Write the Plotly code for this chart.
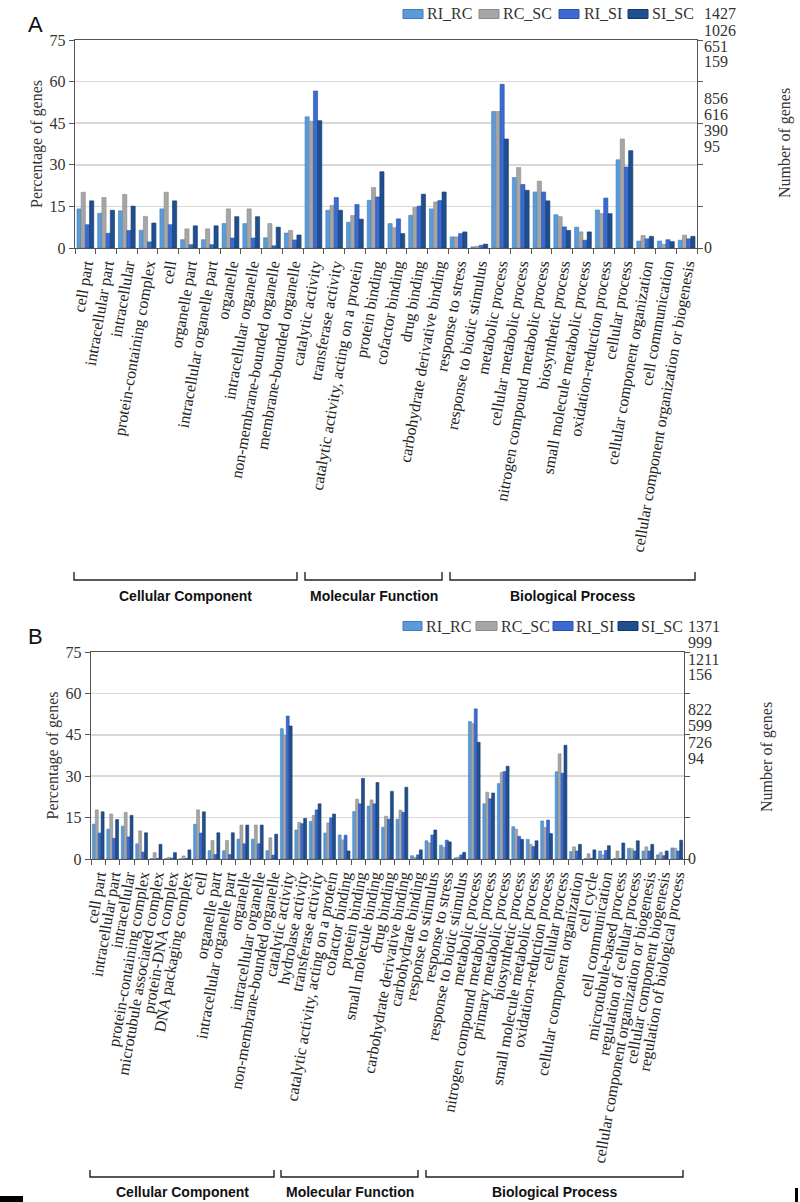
import plotly.graph_objects as go

W, H = 800, 1202

series = ["RI_RC", "RC_SC", "RI_SI", "SI_SC"]
colors = ["#5A9CDA", "#A6A6A6", "#3A6AD2", "#1F4F8E"]
edge_colors = ["#3E7DBA", "#8A8A8A", "#2A52AA", "#153A6A"]

# ---------------- Panel A data ----------------
cats_a = ["cell part", "intracellular part", "intracellular", "protein-containing complex", "cell",
          "organelle part", "intracellular organelle part", "organelle", "intracellular organelle",
          "non-membrane-bounded organelle", "membrane-bounded organelle",
          "catalytic activity", "transferase activity", "catalytic activity, acting on a protein",
          "protein binding", "cofactor binding", "drug binding", "carbohydrate derivative binding",
          "response to stress", "response to biotic stimulus", "metabolic process",
          "cellular metabolic process", "nitrogen compound metabolic process", "biosynthetic process",
          "small molecule metabolic process", "oxidation-reduction process", "cellular process",
          "cellular component organization", "cell communication",
          "cellular component organization or biogenesis"]
a_ri_rc = [14.1, 12.5, 13.4, 6.4, 14.1, 3.0, 3.0, 8.8, 8.8, 3.7, 5.4, 47.3, 13.6, 9.3, 17.2, 8.8, 11.8, 14.1,
           4.0, 0.4, 49.2, 25.4, 20.2, 12.0, 7.5, 13.7, 31.8, 2.5, 2.5, 2.8]
a_rc_sc = [20.1, 18.2, 19.3, 11.4, 20.1, 6.9, 6.9, 14.1, 14.1, 8.8, 6.3, 45.7, 15.3, 11.7, 21.8, 7.3, 14.6, 16.6,
           4.0, 0.6, 49.2, 29.0, 24.1, 11.3, 5.8, 12.4, 39.3, 4.5, 1.3, 4.6]
a_ri_si = [8.4, 5.3, 6.3, 2.2, 8.4, 1.2, 1.2, 3.6, 3.6, 0.8, 2.9, 56.6, 18.2, 15.7, 18.4, 10.5, 15.1, 17.1,
           5.2, 1.0, 59.0, 22.9, 20.2, 7.6, 2.8, 18.0, 29.2, 3.3, 3.0, 3.3]
a_si_sc = [17.0, 13.6, 15.1, 9.0, 17.0, 8.0, 8.0, 11.3, 11.3, 7.5, 4.7, 45.9, 13.6, 10.4, 27.5, 5.2, 19.4, 20.2,
           5.8, 1.4, 39.3, 20.8, 17.0, 6.3, 5.8, 12.4, 35.1, 4.2, 2.3, 4.2]
right_labels_a = ["1427", "1026", "651", "159", "856", "616", "390", "95", "0"]

# ---------------- Panel B data ----------------
cats_b = ["cell part", "intracellular part", "intracellular", "protein-containing complex",
          "microtubule associated complex", "protein-DNA complex", "DNA packaging complex", "cell",
          "organelle part", "intracellular organelle part", "organelle", "intracellular organelle",
          "non-membrane-bounded organelle",
          "catalytic activity", "hydrolase activity", "transferase activity",
          "catalytic activity, acting on a protein", "cofactor binding", "protein binding",
          "small molecule binding", "drug binding", "carbohydrate derivative binding", "carbohydrate binding",
          "response to stimulus", "response to stress", "response to biotic stimulus", "metabolic process",
          "nitrogen compound metabolic process", "primary metabolic process", "biosynthetic process",
          "small molecule metabolic process", "oxidation-reduction process", "cellular process",
          "cellular component organization", "cell cycle", "cell communication", "microtubule-based process",
          "regulation of cellular process", "cellular component organization or biogenesis",
          "cellular component biogenesis", "regulation of biological process"]
b_ri_rc = [12.6, 10.8, 11.9, 5.5, 0.2, 0.2, 0.1, 12.6, 3.0, 3.0, 7.2, 7.2, 3.0,
           47.2, 10.5, 13.6, 9.4, 8.7, 17.2, 19.2, 11.5, 14.4, 1.2,
           6.6, 5.0, 0.4, 49.8, 20.0, 27.3, 11.7, 7.1, 13.8, 31.6, 2.7, 0.2, 2.9, 0.2, 3.9, 2.9, 1.5, 4.0]
b_rc_sc = [17.8, 16.3, 16.9, 10.2, 2.3, 0.6, 1.1, 17.8, 6.7, 6.7, 12.3, 12.3, 7.7,
           44.8, 13.3, 15.8, 13.1, 6.9, 21.7, 21.4, 15.5, 17.7, 0.6,
           5.8, 4.2, 0.7, 49.1, 24.2, 31.4, 10.8, 5.3, 11.4, 38.1, 4.4, 1.9, 1.5, 2.9, 3.7, 4.4, 2.4, 3.9]
b_ri_si = [9.4, 7.5, 8.0, 2.5, 0.2, 0.3, 0.2, 9.4, 1.6, 1.6, 5.5, 5.5, 1.4,
           51.8, 12.8, 17.8, 14.9, 8.6, 20.0, 20.0, 14.4, 16.9, 1.5,
           8.7, 6.8, 1.5, 54.4, 21.8, 31.7, 8.2, 4.5, 14.1, 31.1, 2.9, 0.2, 3.1, 0.2, 2.9, 2.9, 1.2, 2.9]
b_si_sc = [17.1, 14.3, 15.8, 9.5, 5.3, 2.3, 3.3, 17.1, 9.5, 9.5, 12.3, 12.3, 9.0,
           48.2, 14.7, 20.0, 16.3, 2.9, 29.2, 27.7, 24.5, 26.0, 3.3,
           10.5, 6.2, 2.4, 42.3, 23.9, 33.6, 7.1, 6.6, 9.2, 41.2, 5.3, 3.3, 4.8, 5.8, 6.6, 5.3, 2.9, 6.8]
right_labels_b = ["1371", "999", "1211", "156", "822", "599", "726", "94", "0"]

groups = ["Cellular Component", "Molecular Function", "Biological Process"]
y_ticks = [0, 15, 30, 45, 60, 75]

SERIF = "Liberation Serif, Times New Roman, serif"
SANS = "Liberation Sans, Arial, sans-serif"


def px(x):
    return x / W


def py(y):
    return 1 - y / H


fig = go.Figure()

data_a = [a_ri_rc, a_rc_sc, a_ri_si, a_si_sc]
data_b = [b_ri_rc, b_rc_sc, b_ri_si, b_si_sc]
for i, name in enumerate(series):
    fig.add_trace(go.Bar(x=cats_a, y=data_a[i], name=name, xaxis="x", yaxis="y",
                         marker=dict(color=colors[i], line=dict(color=edge_colors[i], width=0.6)),
                         showlegend=False))
    fig.add_trace(go.Bar(x=cats_b, y=data_b[i], name=name, xaxis="x2", yaxis="y2",
                         marker=dict(color=colors[i], line=dict(color=edge_colors[i], width=0.6)),
                         showlegend=False))

axis_col = "#555555"
xcommon = dict(type="category", showline=True, linecolor=axis_col, linewidth=1.3, mirror=True,
               tickmode="linear", tick0=0, dtick=1,
               ticks="outside", tickson="boundaries", ticklen=5, tickcolor=axis_col,
               tickangle=-80, tickfont=dict(family=SERIF, size=16, color="#222222"),
               showgrid=False, automargin=False, fixedrange=True)
ycommon = dict(range=[0, 75], tickvals=y_ticks, showline=True, linecolor=axis_col, linewidth=1.3,
               mirror="ticks", ticks="outside", ticklen=5, tickcolor=axis_col,
               showgrid=True, gridcolor="#D9D9D9", gridwidth=1.5, zeroline=False,
               tickfont=dict(family=SERIF, size=16, color="#333333"), automargin=False,
               fixedrange=True,
               title=dict(text="Percentage of genes", font=dict(family=SERIF, size=16, color="#333333"),
                          standoff=3))

layout_a_x = dict(xcommon, domain=[px(75), px(697)], anchor="y")
layout_a_y = dict(ycommon, domain=[py(248), py(40)], anchor="x")
layout_b_x = dict(xcommon, domain=[px(91), px(684)], anchor="y2")
layout_b_y = dict(ycommon, domain=[py(859), py(652)], anchor="x2")

shapes = []
annotations = []


def legend(x_sw, x_tx, yc, right_x, right_ys, right_txt):
    for i, name in enumerate(series):
        shapes.append(dict(type="rect", xref="paper", yref="paper",
                           x0=px(x_sw[i][0]), x1=px(x_sw[i][1]), y0=py(yc + 4.5), y1=py(yc - 4.5),
                           fillcolor=colors[i], line=dict(color=edge_colors[i], width=1)))
        annotations.append(dict(text=name, xref="paper", yref="paper", x=px(x_tx[i]), y=py(yc),
                                xanchor="left", yanchor="middle", showarrow=False,
                                font=dict(family=SERIF, size=16, color="#333333")))
    for t, yy in zip(right_txt, right_ys):
        annotations.append(dict(text=t, xref="paper", yref="paper", x=px(right_x), y=py(yy),
                                xanchor="left", yanchor="middle", showarrow=False,
                                font=dict(family=SERIF, size=16, color="#333333")))


legend([(403, 423), (479, 499), (559, 579), (628, 648)], [425, 501, 582, 650], 14,
       702, [14, 31, 47, 62, 98, 114, 130, 146, 247], right_labels_a)
legend([(403, 422), (476, 497), (553, 573), (618, 638)], [424, 499, 574, 639], 626,
       686, [626, 642, 659, 675, 709, 725, 742, 758, 858], right_labels_b)

# right-hand axis titles
annotations.append(dict(text="Number of genes", xref="paper", yref="paper", x=px(785), y=py(143),
                        textangle=-90, showarrow=False, xanchor="center", yanchor="middle",
                        font=dict(family=SERIF, size=16, color="#333333")))
annotations.append(dict(text="Number of genes", xref="paper", yref="paper", x=px(767), y=py(757),
                        textangle=-90, showarrow=False, xanchor="center", yanchor="middle",
                        font=dict(family=SERIF, size=16, color="#333333")))

# panel letters
annotations.append(dict(text="A", xref="paper", yref="paper", x=px(35), y=py(25), showarrow=False,
                        xanchor="center", yanchor="middle",
                        font=dict(family=SANS, size=22, color="#111111")))
annotations.append(dict(text="B", xref="paper", yref="paper", x=px(35), y=py(636), showarrow=False,
                        xanchor="center", yanchor="middle",
                        font=dict(family=SANS, size=22, color="#111111")))


def brackets(spans, y_line, y_top, y_text):
    for (x0, x1), g in zip(spans, groups):
        path = "M {a},{t} L {a},{b} L {c},{b} L {c},{t}".format(
            a=px(x0), c=px(x1), t=py(y_top), b=py(y_line))
        shapes.append(dict(type="path", xref="paper", yref="paper", path=path,
                           line=dict(color="#222222", width=1.4)))
        annotations.append(dict(text="<b>%s</b>" % g, xref="paper", yref="paper",
                                x=px((x0 + x1) / 2), y=py(y_text), showarrow=False,
                                xanchor="center", yanchor="middle",
                                font=dict(family=SANS, size=14, color="#111111")))


brackets([(74, 297), (305, 442), (450, 695)], 580, 572, 596)
brackets([(90, 274), (281, 418), (426, 683)], 1177, 1170, 1192)

# small black marks at the page bottom edges
shapes.append(dict(type="rect", xref="paper", yref="paper", x0=px(0), x1=px(23), y0=py(1202), y1=py(1196),
                   fillcolor="#000000", line=dict(width=0)))
shapes.append(dict(type="rect", xref="paper", yref="paper", x0=px(795), x1=px(798), y0=py(1202), y1=py(1188),
                   fillcolor="#000000", line=dict(width=0)))

fig.update_layout(
    template="none",
    width=W, height=H,
    margin=dict(l=0, r=0, t=0, b=0),
    paper_bgcolor="white", plot_bgcolor="white",
    barmode="group", bargap=0.19, bargroupgap=0.0,
    xaxis=layout_a_x, yaxis=layout_a_y,
    xaxis2=layout_b_x, yaxis2=layout_b_y,
    shapes=shapes, annotations=annotations,
    showlegend=False, hovermode=False,
)

fig.write_html("out.html",
               config={"displayModeBar": False, "staticPlot": True},
               post_script="document.body.style.margin='0';document.body.style.overflow='hidden';")
